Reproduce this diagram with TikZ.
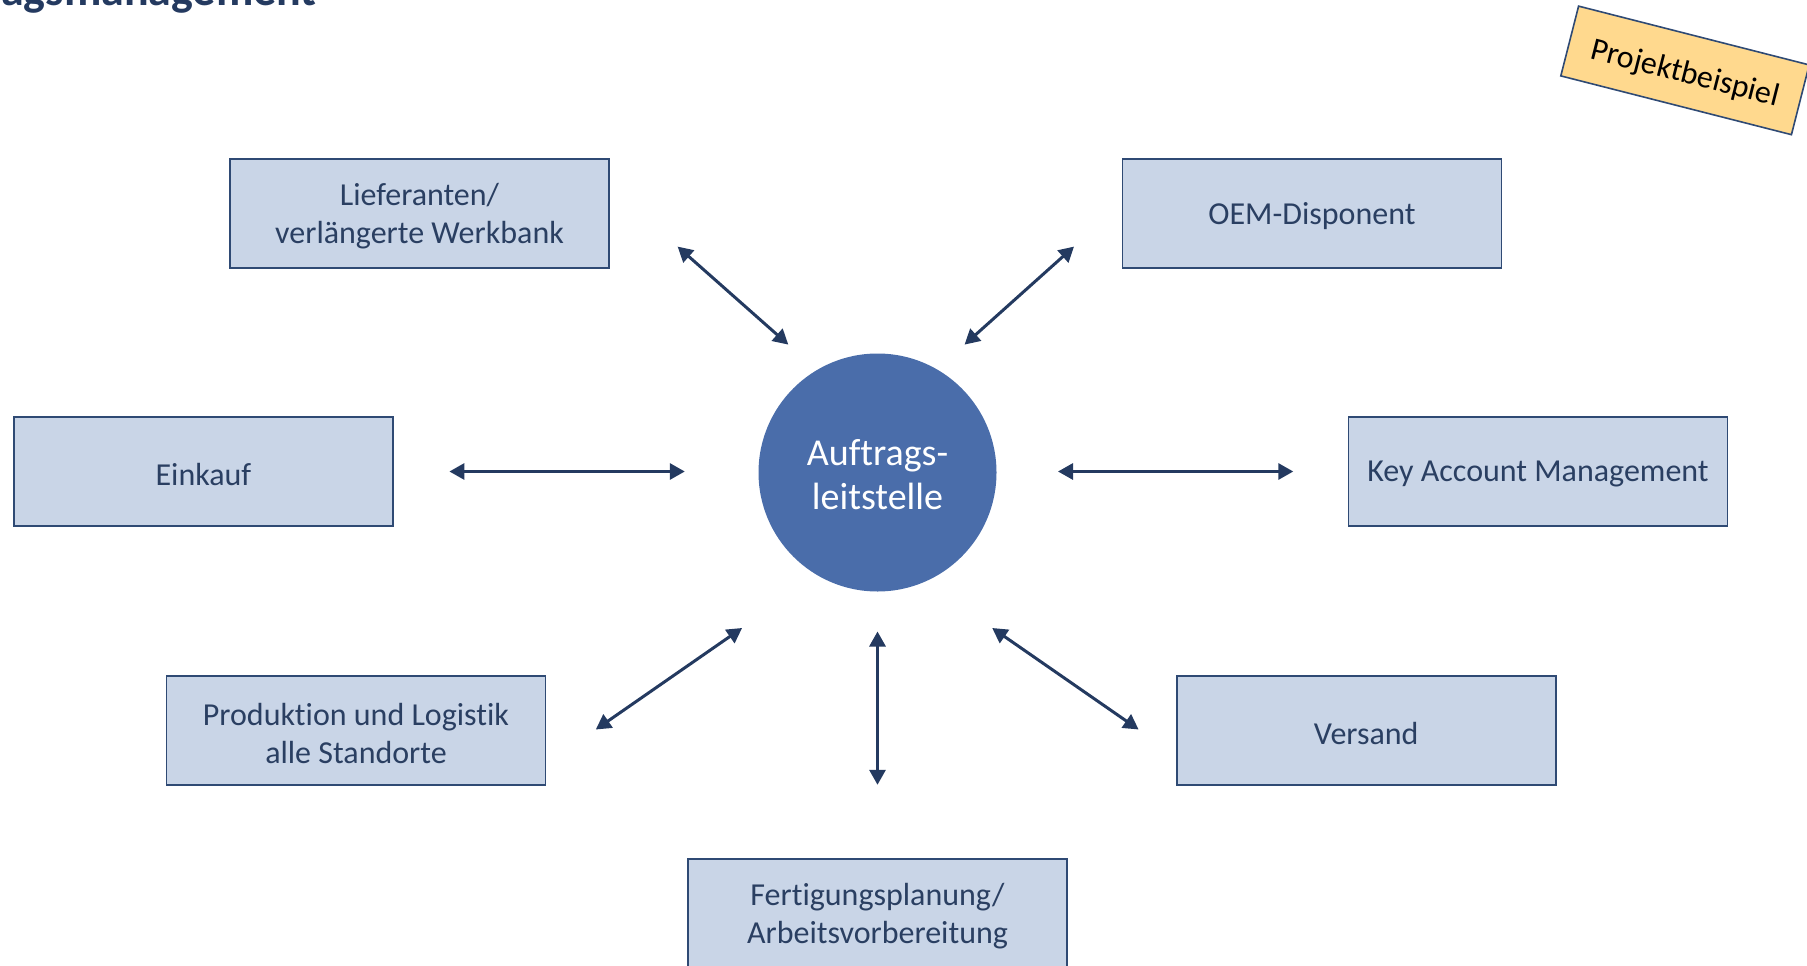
\documentclass[tikz,border=0pt]{standalone}
\usepackage{fontspec}
\setmainfont{Carlito}[Ligatures=NoCommon]
\usetikzlibrary{arrows.meta}
\definecolor{navy}{HTML}{243A60}
\definecolor{boxfill}{HTML}{C9D5E7}
\definecolor{boxline}{HTML}{2F4A74}
\definecolor{boxtext}{HTML}{2A3F62}
\definecolor{hub}{HTML}{4A6DAA}
\definecolor{tagfill}{HTML}{FFD98E}
\begin{document}
\begin{tikzpicture}[x=1pt,y=-1pt,
  unit/.style={draw=boxline, line width=1.8pt, fill=boxfill,
    minimum width=379pt, minimum height=109pt, inner sep=0pt},
  unittext/.style={inner sep=0pt, align=center, text=boxtext,
    font=\fontsize{32}{38}\selectfont},
  link/.style={draw=navy, line width=3pt,
    {Triangle[length=15pt,width=16pt]}-{Triangle[length=15pt,width=16pt]}}]
\useasboundingbox (0,0) rectangle (1807,966);
\clip (0,0) rectangle (1807,966);

% heading, partly above the page
\node[anchor=base east, inner sep=0pt, text=navy,
  font=\fontsize{46}{54}\selectfont\bfseries] (title) at (317,6) {Auftragsmanagement};

% tag in the upper right corner
\node[draw=boxline, line width=1.6pt, fill=tagfill, minimum width=238pt,
  minimum height=72pt, inner sep=0pt, rotate=-14.3] (tag) at (1685,70.4) {};
\node[inner sep=0pt, rotate=-14.3, font=\fontsize{32}{38}\selectfont]
  (tagtext) at ([yshift=-4pt]tag.center) {Projektbeispiel};

% central unit
\node[circle, fill=hub, minimum size=238pt, inner sep=0pt] (hub) at (877.5,472.5) {};
\node[inner sep=0pt, align=center, text=white,
  font=\fontsize{38}{44}\selectfont] (hubtext) at ([yshift=-2pt]hub.center) {Auftrags-\\leitstelle};

% surrounding units
\node[unit] (lief) at (419.5,213.2) {};
\node[unit] (oem)  at (1312,213.2) {};
\node[unit] (ek)   at (203.4,471.8) {};
\node[unit] (kam)  at (1538,471.8) {};
\node[unit] (prod) at (356,730.6) {};
\node[unit] (vers) at (1366.2,730.6) {};
\node[unit] (fert) at (877.5,913.3) {};

\node[unittext] (lieftext) at ([yshift=-2.5pt]lief.center) {Lieferanten/\\verlängerte Werkbank};
\node[unittext] (oemtext)  at ([yshift=-2.5pt]oem.center)  {OEM-Disponent};
\node[unittext] (ektext)   at ([yshift=-2.5pt]ek.center)   {Einkauf};
\node[unittext] (kamtext)  at ([yshift=-2.5pt]kam.center)  {Key Account Management};
\node[unittext] (prodtext) at ([yshift=-2.5pt]prod.center) {Produktion und Logistik\\alle Standorte};
\node[unittext] (verstext) at ([yshift=-2.5pt]vers.center) {Versand};
\node[unittext] (ferttext) at ([yshift=-2.5pt]fert.center) {Fertigungsplanung/\\Arbeitsvorbereitung};

% arrow end points
\coordinate (l1) at (677.6,246.6);  \coordinate (l2) at (788.3,344.6);
\coordinate (o1) at (1074,246.6);   \coordinate (o2) at (964.6,344.6);
\coordinate (e1) at (449.4,471.5);  \coordinate (e2) at (684.8,471.5);
\coordinate (k1) at (1058,471.5);   \coordinate (k2) at (1293.3,471.5);
\coordinate (p1) at (595.8,729.5);  \coordinate (p2) at (742.1,628);
\coordinate (f1) at (877.5,631.5);  \coordinate (f2) at (877.5,784.8);
\coordinate (v1) at (992.2,628);    \coordinate (v2) at (1138.6,729.5);

\draw[link] (l1) -- (l2);
\draw[link] (o1) -- (o2);
\draw[link] (e1) -- (e2);
\draw[link] (k1) -- (k2);
\draw[link] (p1) -- (p2);
\draw[link] (f1) -- (f2);
\draw[link] (v1) -- (v2);
\end{tikzpicture}
\end{document}
